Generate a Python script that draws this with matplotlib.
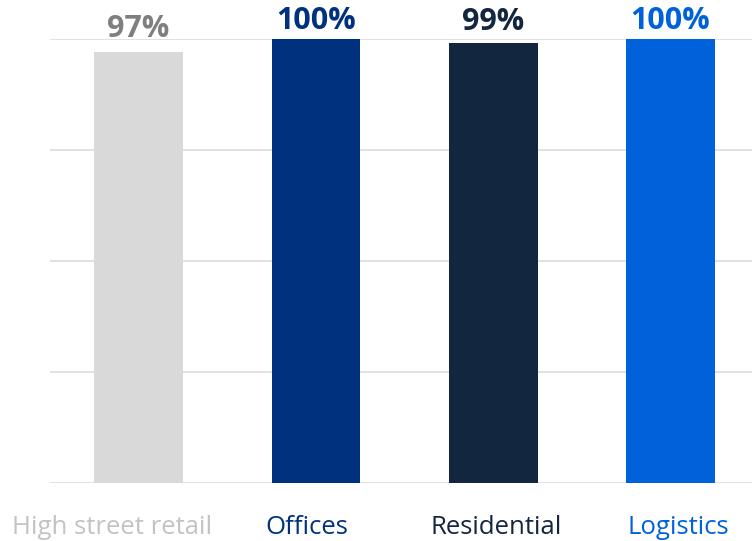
import matplotlib.pyplot as plt
from matplotlib.transforms import ScaledTranslation

# Occupancy by sector (%)
categories = ['High street retail', 'Offices', 'Residential', 'Logistics']
values = [97, 100, 99, 100]
value_labels = ['97%', '100%', '99%', '100%']

bar_colors = ['#d9d9d9', '#00317e', '#13263f', '#0062da']
label_colors = ['#7f7f7f', '#00317e', '#13263f', '#0062da']
tick_colors = ['#c3c3c3', '#00317e', '#13263f', '#0062da']

# small layout nudges to match the original placement (points)
label_pad = [10.8, 7.2, 10, 7.2]
tick_shift = [-19, -6.5, 2, 6]

plt.rcParams['font.family'] = ['Open Sans', 'DejaVu Sans']

fig = plt.figure(figsize=(7.52, 5.41), dpi=100)
ax = fig.add_axes([50 / 752, 58 / 541, 702 / 752, 444 / 541])

x = list(range(len(categories)))
ax.bar(x, values, width=0.5, color=bar_colors, zorder=2)

# Value labels above bars
for xi, v, lab, c, p in zip(x, values, value_labels, label_colors, label_pad):
    ax.annotate(lab, (xi, v), xytext=(0, p), textcoords='offset points',
                ha='center', va='baseline', fontsize=22, fontweight='bold', color=c)

ax.set_xlim(-0.5, 3.46)
ax.set_ylim(0, 100)
ax.set_yticks([0, 25, 50, 75, 100])
ax.yaxis.grid(True, color='#dcdcdc', linewidth=1.2, zorder=0)
ax.tick_params(axis='y', left=False, labelleft=False)
ax.tick_params(axis='x', length=0, pad=23)
ax.set_xticks(x)
ax.set_xticklabels(categories, fontsize=18.5)
for t, c, dx in zip(ax.get_xticklabels(), tick_colors, tick_shift):
    t.set_color(c)
    t.set_transform(t.get_transform() + ScaledTranslation(dx / 72, 0, fig.dpi_scale_trans))

for s in ax.spines.values():
    s.set_visible(False)

fig.savefig('out.png', dpi=100)
